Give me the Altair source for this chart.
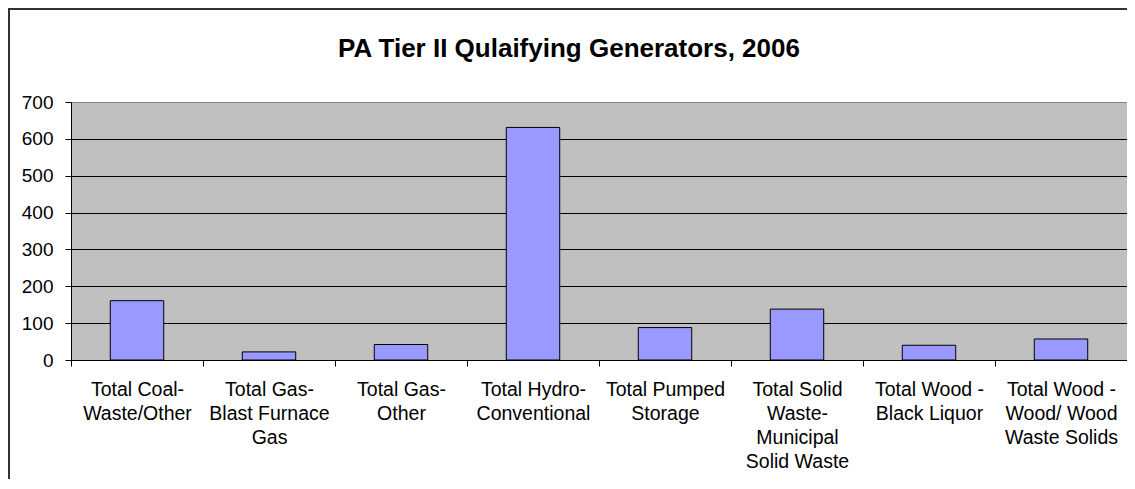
import altair as alt
import pandas as pd

title_text = "PA Tier II Qulaifying Generators, 2006"
categories = [
    "Total Coal-\nWaste/Other",
    "Total Gas-\nBlast Furnace\nGas",
    "Total Gas-\nOther",
    "Total Hydro-\nConventional",
    "Total Pumped\nStorage",
    "Total Solid\nWaste-\nMunicipal\nSolid Waste",
    "Total Wood -\nBlack Liquor",
    "Total Wood -\nWood/ Wood\nWaste Solids",
]
values = [161, 22, 42, 631, 88, 138, 40, 57]
y_ticks = [0, 100, 200, 300, 400, 500, 600, 700]

df = pd.DataFrame({"category": categories, "value": values})

W, H = 1056, 258
FONT = "Liberation Sans"

bars = alt.Chart(df).mark_bar(
    fill="#9999FF", stroke="#000000", strokeWidth=1,
    width=alt.RelativeBandSize(0.405),
).encode(
    x=alt.X(
        "category:N",
        sort=categories,
        scale=alt.Scale(paddingInner=0, paddingOuter=0),
        axis=alt.Axis(
            title=None,
            labelAngle=0,
            labelExpr="isValid(datum.value) ? split(datum.value, '\\n') : ''",
            labelFont=FONT,
            labelFontSize=19.5,
            labelLineHeight=24.2,
            labelColor="#000000",
            labelBaseline="top",
            labelPadding=14,
            labelLimit=0,
            tickBand="extent",
            ticks=True,
            tickSize=6,
            tickWidth=1,
            tickOpacity=1,
            tickColor="#000000",
            domain=True,
            domainColor="#000000",
            domainWidth=1,
            grid=False,
        ),
    ),
    y=alt.Y(
        "value:Q",
        scale=alt.Scale(domain=[0, 700], nice=False),
        axis=alt.Axis(
            title=None,
            values=y_ticks,
            labelFont=FONT,
            labelFontSize=19,
            labelColor="#000000",
            labelPadding=12,
            ticks=True,
            tickSize=6,
            tickWidth=1,
            tickOpacity=1,
            tickColor="#000000",
            domain=True,
            domainColor="#000000",
            domainWidth=1,
            grid=True,
            gridColor={"condition": {"test": "datum.value === 700", "value": "#808080"}, "value": "#000000"},
            gridOpacity=1,
            gridWidth=1,
        ),
    ),
)

title_df = pd.DataFrame({"t": [title_text]})
title = alt.Chart(title_df).mark_text(
    font=FONT, fontSize=26, fontWeight="bold", color="#000000",
    align="center", baseline="alphabetic",
).encode(text="t:N", x=alt.value(W / 2 - 30), y=alt.value(-45))

border_df = pd.DataFrame({"b": [0]})
top_border = alt.Chart(border_df).mark_rule(color="#333333", strokeWidth=2).encode(
    x=alt.value(-63), x2=alt.value(W + 10), y=alt.value(-93), y2=alt.value(-93)
)
left_border = alt.Chart(border_df).mark_rule(color="#333333", strokeWidth=2).encode(
    x=alt.value(-62), x2=alt.value(-62), y=alt.value(-94), y2=alt.value(H + 140)
)

chart = alt.layer(bars, title, top_border, left_border).properties(
    width=W,
    height=H,
    autosize=alt.AutoSizeParams(type="none"),
    padding={"left": 63, "top": 94, "right": 0, "bottom": 119},
    background="#FFFFFF",
).configure_view(
    fill="#C0C0C0", stroke="#808080", strokeWidth=1
)

chart.save("out.html", embed_options={"renderer": "svg", "actions": False})
